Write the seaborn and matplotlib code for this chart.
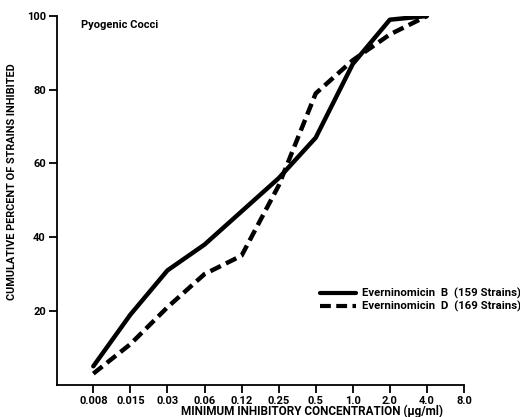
import matplotlib
matplotlib.use("Agg")
import matplotlib.pyplot as plt
import seaborn as sns
import pandas as pd
import numpy as np

# Data
concentrations = ["0.008", "0.015", "0.03", "0.06", "0.12", "0.25", "0.5", "1.0", "2.0", "4.0", "8.0"]
series_b_label = "Everninomicin  B  (159 Strains)"
series_d_label = "Everninomicin  D  (169 Strains)"
series_b = [5, 19, 31, 38, 47, 56, 67, 87, 99, 100]
series_d = [3, 11, 21, 30, 35, 54, 79, 88, 95, 100]
y_ticks = [20, 40, 60, 80, 100]

sns.set_theme(style="white")
plt.rcParams['font.family'] = ['Roboto', 'DejaVu Sans']
plt.rcParams['text.color'] = 'black'
plt.rcParams['axes.labelcolor'] = 'black'
plt.rcParams['xtick.color'] = 'black'
plt.rcParams['ytick.color'] = 'black'

rows = []
for i, v in enumerate(series_b):
    rows.append({"pos": i, "pct": v, "series": series_b_label})
for i, v in enumerate(series_d):
    rows.append({"pos": i, "pct": v, "series": series_d_label})
df = pd.DataFrame(rows)

fig = plt.figure(figsize=(5.2, 4.17), dpi=100)
ax = fig.add_axes([0.1096, 0.0775, 0.7827, 0.8841])

sns.lineplot(data=df, x="pos", y="pct", hue="series", style="series",
             palette=["black", "black"],
             dashes={series_b_label: "", series_d_label: (2.6, 1.3)},
             linewidth=3.2, sort=False, ax=ax, legend=True)

ax.set_xlim(-0.98, 10.0)
ax.set_ylim(0, 100)
ax.set_xticks(range(len(concentrations)))
ax.set_xticklabels(concentrations)
ax.set_yticks(y_ticks)
ax.set_yticklabels([str(t) for t in y_ticks])

for s in ["top", "right"]:
    ax.spines[s].set_visible(False)
for s in ["left", "bottom"]:
    ax.spines[s].set_color("black")
    ax.spines[s].set_linewidth(1.3)

ax.tick_params(axis="both", which="major", direction="out", length=6, width=1.3,
               color="black", labelsize=8, pad=2, bottom=True, left=True)
for lab in ax.get_xticklabels() + ax.get_yticklabels():
    lab.set_fontweight("bold")

ax.set_xlabel("MINIMUM INHIBITORY CONCENTRATION (\u00b5g/ml)", fontsize=8.5,
              fontweight="bold")
ax.xaxis.set_label_coords(0.627, -0.055)
ax.set_ylabel("CUMULATIVE PERCENT OF STRAINS INHIBITED", fontsize=7.8,
              fontweight="bold")
ax.yaxis.set_label_coords(-0.098, 0.55)

ax.text(0.06, 0.975, "Pyogenic Cocci", transform=ax.transAxes, fontsize=8,
        fontweight="bold", va="center", ha="left")

leg = ax.legend(loc="center left", bbox_to_anchor=(0.635, 0.23), frameon=False,
                fontsize=8.2, handlelength=3.2, handletextpad=0.5, labelspacing=0.15,
                borderaxespad=0)
for t in leg.get_texts():
    t.set_fontweight("bold")
for h in leg.get_lines():
    h.set_linewidth(3)

ax.grid(False)
fig.savefig("out.png", dpi=100)
